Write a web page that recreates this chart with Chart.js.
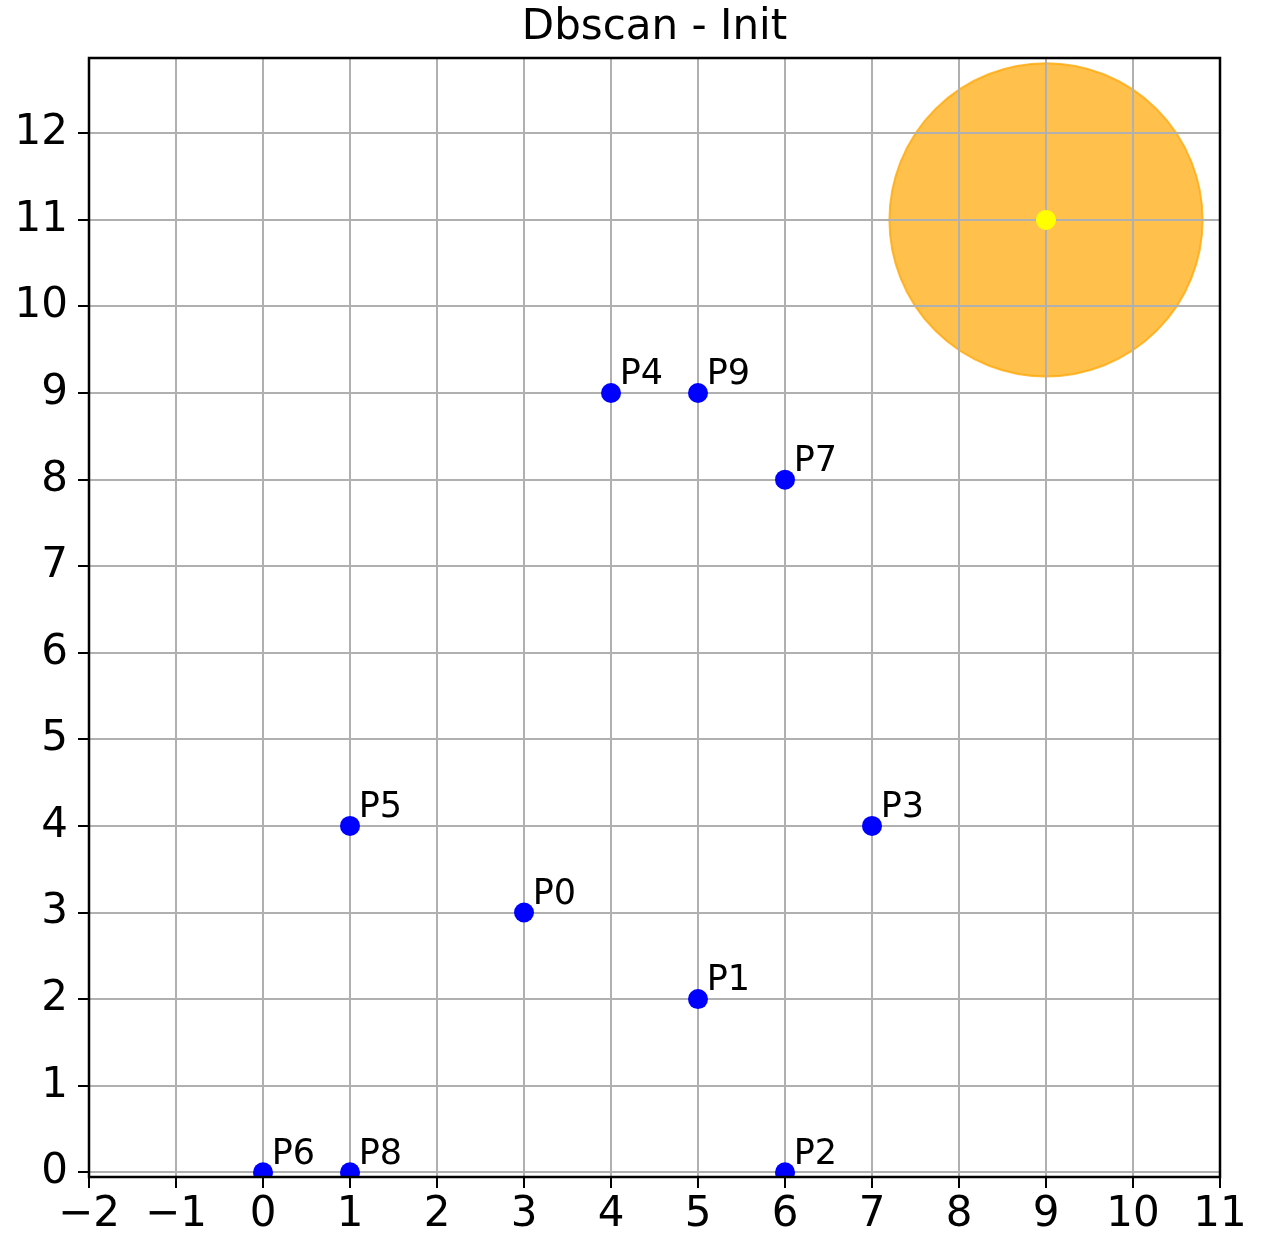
<!DOCTYPE html>
<html>
<head>
<meta charset="utf-8">
<script src="https://cdn.jsdelivr.net/npm/chart.js@4"></script>
<style>
  body { margin: 0; background: #fff; }
  canvas { display: block; }
</style>
</head>
<body>
<canvas id="chart-1" width="1271" height="1236"></canvas>
<script>
// Data

const pointNames = ['P0', 'P1', 'P2', 'P3', 'P4', 'P5', 'P6', 'P7', 'P8', 'P9'];
const pointX = [3, 5, 6, 7, 4, 1, 0, 6, 1, 5];
const pointY = [3, 2, 0, 4, 9, 4, 0, 8, 0, 9];

const centerX = [9];
const centerY = [11];
const epsilon = 1.8;

const xTicks = [-2, -1, 0, 1, 2, 3, 4, 5, 6, 7, 8, 9, 10, 11];
const yTicks = [0, 1, 2, 3, 4, 5, 6, 7, 8, 9, 10, 11, 12];

const titleText = 'Dbscan - Init';
const font = 'DejaVu Sans';

// Datasets

const pointsData = pointX.map((x, i) => ({ x: x, y: pointY[i] }));
const centerData = centerX.map((x, i) => ({ x: x, y: centerY[i] }));

// radius of the eps circle, in pixels, from the x scale
function epsRadius(ctx) {
    const xs = ctx.chart.scales.x;
    if (!xs) return 0;
    return Math.abs(xs.getPixelForValue(centerX[0] + epsilon) - xs.getPixelForValue(centerX[0]));
}

const data1 = {
    datasets: [{
        label: 'points',
        data: pointsData,
        backgroundColor: 'blue',
        borderWidth: 0,
        pointRadius: 10,
        clip: 0,
        order: 1,
    }, {
        label: 'center',
        data: centerData,
        backgroundColor: 'yellow',
        borderWidth: 0,
        pointRadius: 10,
        clip: 0,
        order: 2,
    }, {
        label: 'eps',
        data: centerData,
        backgroundColor: 'rgba(255, 165, 0, 0.7)',
        borderColor: 'rgba(255, 165, 0, 0.75)',
        borderWidth: 2,
        pointRadius: epsRadius,
        clip: false,
        order: 3,
    }],
};

function minusSign(v) {
    return String(v).replace('-', '\u2212');
}

// grid goes on top of the orange circle, like matplotlib
const gridOverCircle = {
    id: 'gridOverCircle',
    afterDatasetDraw(chart, args) {
        if (args.index !== 2) return;
        chart.scales.x.drawGrid(chart.chartArea);
        chart.scales.y.drawGrid(chart.chartArea);
    }
};

// point names next to the dots
const pointLabels = {
    id: 'pointLabels',
    afterDatasetsDraw(chart) {
        const ctx = chart.ctx;
        const xs = chart.scales.x;
        const ys = chart.scales.y;
        ctx.save();
        ctx.font = '35px "' + font + '"';
        ctx.fillStyle = 'black';
        ctx.textAlign = 'left';
        ctx.textBaseline = 'alphabetic';
        pointNames.forEach((name, i) => {
            ctx.fillText(name, xs.getPixelForValue(pointX[i] + 0.1), ys.getPixelForValue(pointY[i] + 0.1));
        });
        ctx.restore();
    }
};

// box around the axes + title centred over the plot area
const frame = {
    id: 'frame',
    afterDraw(chart) {
        const a = chart.chartArea;
        const ctx = chart.ctx;
        ctx.save();
        ctx.strokeStyle = 'black';
        ctx.lineWidth = 2.5;
        ctx.strokeRect(a.left, a.top, a.right - a.left, a.bottom - a.top);
        ctx.font = '42px "' + font + '"';
        ctx.fillStyle = 'black';
        ctx.textAlign = 'center';
        ctx.textBaseline = 'alphabetic';
        ctx.fillText(titleText, (a.left + a.right) / 2, a.top - 19);
        ctx.restore();
    }
};

const config1 = {
    type: 'scatter',
    data: data1,
    plugins: [gridOverCircle, pointLabels, frame],
    options: {
        responsive: false,
        animation: false,
        events: [],
        layout: {
            padding: { left: 0, right: 51, top: 58, bottom: 0 }
        },
        plugins: {
            legend: { display: false },
            tooltip: { enabled: false },
            title: { display: false },
        },
        scales: {
            x: {
                type: 'linear',
                min: -2,
                max: 11,
                afterBuildTicks: s => { s.ticks = xTicks.map(v => ({ value: v })); },
                afterFit: s => { s.height = 59; },
                ticks: {
                    color: 'black',
                    font: { family: font, size: 42 },
                    padding: 2,
                    maxRotation: 0,
                    autoSkip: false,
                    callback: v => minusSign(v),
                },
                grid: {
                    color: '#b0b0b0',
                    lineWidth: 2,
                    drawTicks: true,
                    tickLength: 11,
                    tickColor: 'black',
                    tickWidth: 2,
                },
                border: { display: false },
            },
            y: {
                type: 'linear',
                min: -0.055,
                max: 12.87,
                afterBuildTicks: s => { s.ticks = yTicks.map(v => ({ value: v })); },
                afterFit: s => { s.width = 89; },
                ticks: {
                    color: 'black',
                    font: { family: font, size: 42 },
                    padding: 10,
                    autoSkip: false,
                    callback: v => minusSign(v),
                },
                grid: {
                    color: '#b0b0b0',
                    lineWidth: 2,
                    drawTicks: true,
                    tickLength: 11,
                    tickColor: 'black',
                    tickWidth: 2,
                },
                border: { display: false },
            }
        }
    }
};

const context1 = document.getElementById('chart-1').getContext('2d');
const chart1 = new Chart(context1, config1);
</script>
</body>
</html>
